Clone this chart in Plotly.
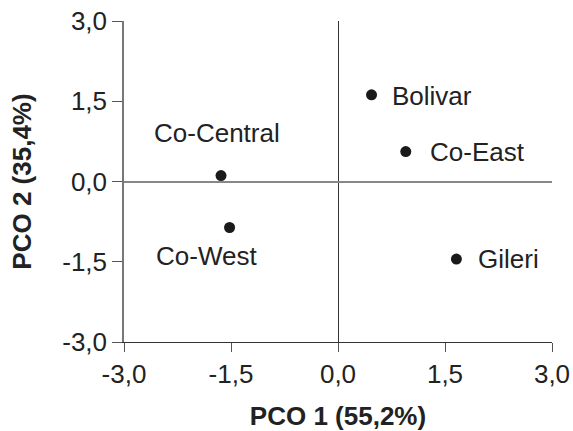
import plotly.graph_objects as go

sites = ["Co-Central", "Co-West", "Bolivar", "Co-East", "Gileri"]
pco1 = [-1.64, -1.52, 0.47, 0.95, 1.66]
pco2 = [0.11, -0.86, 1.62, 0.56, -1.45]
tick_vals = [-3.0, -1.5, 0.0, 1.5, 3.0]
tick_text = ["-3,0", "-1,5", "0,0", "1,5", "3,0"]

# label offsets (pixels) and anchors
label_style = {
    "Co-Central": dict(xshift=-4, yshift=43, xanchor="center"),
    "Co-West": dict(xshift=-23, yshift=-28, xanchor="center"),
    "Bolivar": dict(xshift=18, yshift=-1, xanchor="left"),
    "Co-East": dict(xshift=22, yshift=0, xanchor="left"),
    "Gileri": dict(xshift=20, yshift=0, xanchor="left"),
}

FONT = "Liberation Sans, Arial, sans-serif"

fig = go.Figure()
fig.add_trace(go.Scatter(
    x=pco1, y=pco2, mode="markers",
    marker=dict(size=11, color="#1a1a1a"),
    hoverinfo="text", text=sites, showlegend=False,
))

for s, x, y in zip(sites, pco1, pco2):
    st = label_style[s]
    fig.add_annotation(x=x, y=y, text=s, showarrow=False,
                       xanchor=st["xanchor"], yanchor="middle",
                       xshift=st["xshift"], yshift=st["yshift"],
                       font=dict(family=FONT, size=26, color="#222222"))

fig.update_layout(
    width=573, height=431,
    margin=dict(l=124, r=21, t=21, b=89),
    paper_bgcolor="white", plot_bgcolor="white",
    font=dict(family=FONT, size=26, color="#222222"),
    xaxis=dict(
        range=[-3, 3], tickvals=tick_vals, ticktext=tick_text, automargin=False,
        ticklabeloverflow="allow",
        showgrid=False, zeroline=True, zerolinecolor="#333333", zerolinewidth=1,
        showline=True, linecolor="#333333", linewidth=1.2,
        ticks="outside", ticklen=9, tickcolor="#555555", tickwidth=1,
        title=dict(text="<b>PCO 1 (55,2%)</b>", font=dict(size=26, family=FONT, color="#222222"), standoff=18),
    ),
    yaxis=dict(
        range=[-3, 3], tickvals=tick_vals, ticktext=tick_text, automargin=False,
        ticklabeloverflow="allow",
        showgrid=False, zeroline=True, zerolinecolor="#888888", zerolinewidth=1.5,
        showline=True, linecolor="#777777", linewidth=1.5,
        ticks="outside", ticklen=10, tickcolor="#555555", tickwidth=1,
        title=dict(text="<b>PCO 2 (35,4%)</b>", font=dict(size=26, family=FONT, color="#222222"), standoff=23),
    ),
)

fig.write_html(
    "out.html",
    config={"displayModeBar": False},
    post_script="document.body.style.margin='0';document.body.style.overflow='hidden';",
)
